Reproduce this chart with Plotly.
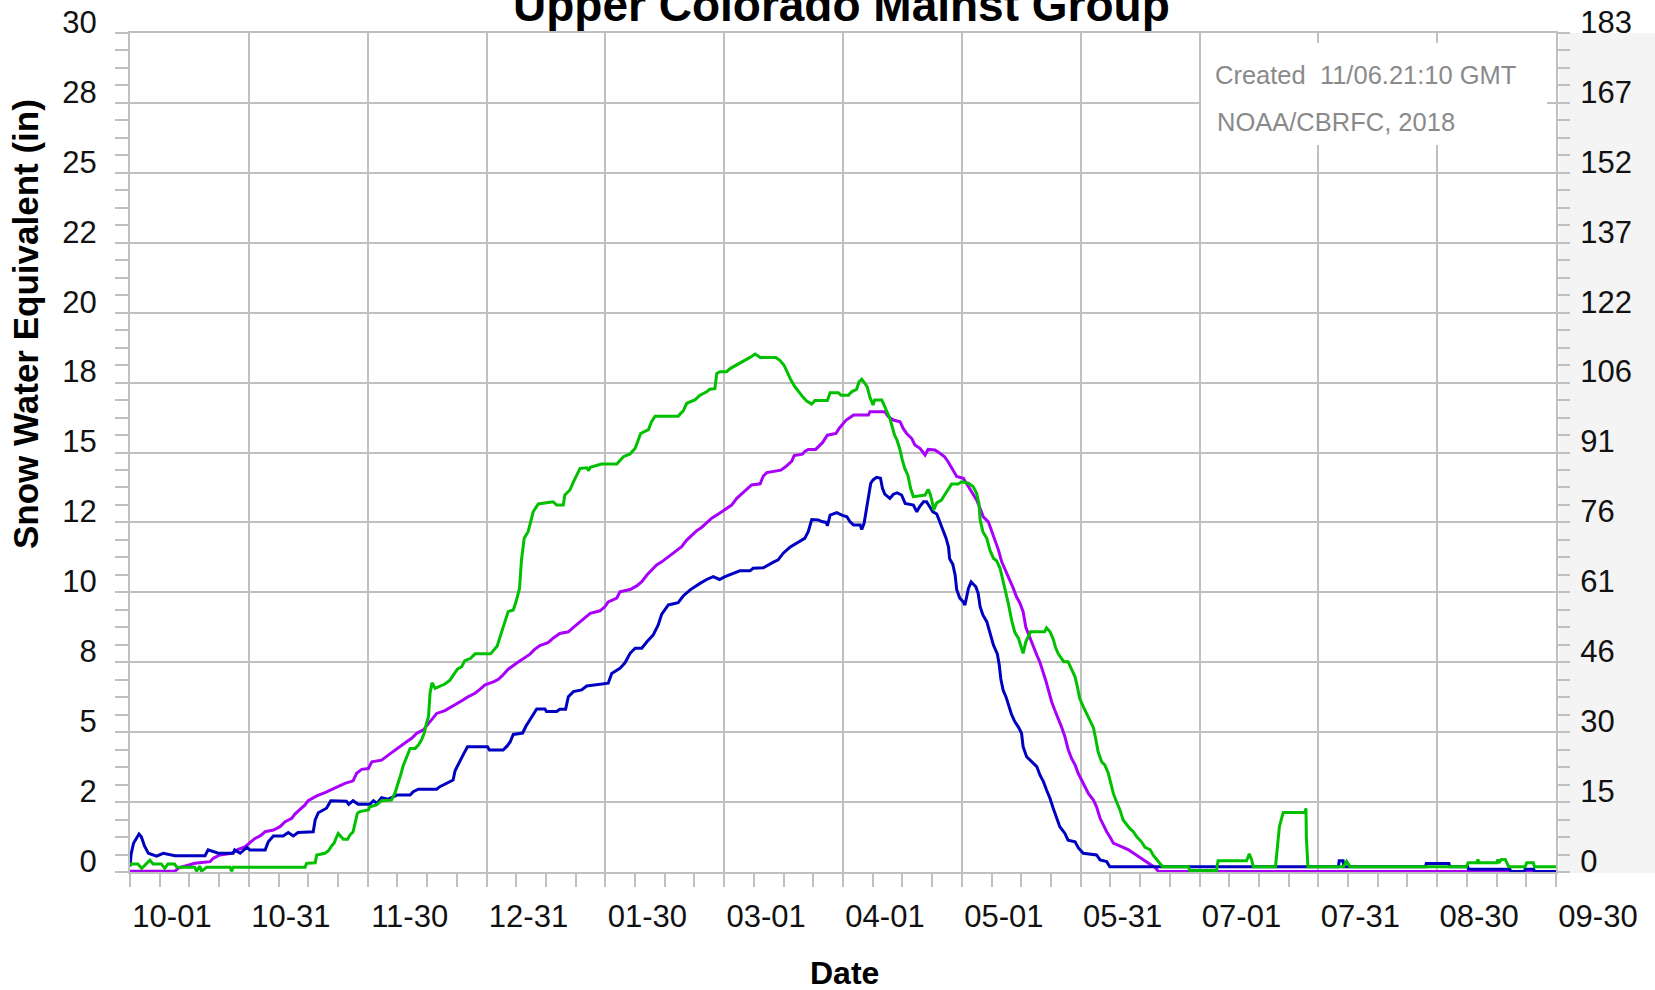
import plotly.graph_objects as go

# ---- data: day of water year (0 = Oct 1) and snow water equivalent (in) ----
blue_day = [0, 0.3, 0.9, 2.3, 2.9, 3.7, 4.7, 6.8, 8.5, 11.5, 19.2, 20.0, 22.6, 26.4, 26.8, 28.2, 29.9, 30.7,
            34.6, 35.4, 36.7, 39.2, 40.5, 41.8, 43.0, 46.9, 47.4, 48.2, 50.3, 51.4, 55.4, 56.0, 57.1, 58.4,
            61.4, 62.3, 63.2, 64.4, 66.0, 68.3, 71.7, 72.5, 73.8, 78.5, 79.3, 81.5, 82.7, 83.2, 84.5, 85.5,
            86.4, 91.5, 92.0, 95.5, 96.5, 97.3, 98.1, 100.5, 101.3, 102.4, 103.7, 104.1, 106.2, 106.6, 109.2,
            110.0, 111.5, 112.2, 113.5, 115.6, 116.9, 119.4, 122.4, 123.3, 125.4, 126.7, 128.0, 129.3, 131.0,
            132.3, 133.9, 135.2, 136.1, 137.8, 140.3, 141.6, 143.3, 145.9, 147.6, 149.3, 150.9, 152.3, 154.4,
            156.1, 158.7, 159.5, 162.1, 163.0, 164.7, 165.9, 167.2, 168.9, 171.5, 172.7, 173.6, 174.5, 176.2,
            177.1, 178.2, 178.5, 179.2, 180.9, 182.2, 183.5, 184.3, 185.2, 186.9, 187.3, 187.9, 188.6, 189.0,
            189.6, 190.2, 191.1, 192.1, 192.6, 193.2, 194.5, 195.4, 196.3, 197.5, 198.4, 200.5, 201.4, 202.1,
            203.1, 203.9, 204.8, 205.5, 206.5, 207.3, 208.0, 208.9, 209.5, 209.8, 210.6, 211.2, 211.6, 212.4,
            213.3, 213.7, 214.6, 215.3, 216.5, 217.1, 217.6, 218.3, 219.3, 220.1, 221.0, 222.0, 222.5, 222.9,
            223.5, 224.2, 224.8, 225.6, 226.5, 227.4, 228.2, 228.6, 229.5, 230.8, 232.1, 232.9, 233.8, 234.6,
            235.5, 236.3, 237.2, 238.0, 239.3, 240.1, 241.9, 242.8, 244.0, 247.4, 248.3, 250.0, 250.8, 309.3,
            309.5, 310.5, 310.7, 331.6, 331.8, 337.6, 337.8, 342.4, 342.6, 353.2, 353.4, 356.9, 357.1, 359.3,
            359.5, 365]
blue_swe = [0.2, 0.65, 1.03, 1.36, 1.26, 0.93, 0.67, 0.57, 0.67, 0.58, 0.58, 0.79, 0.67, 0.67, 0.79, 0.67, 0.88, 0.79,
            0.79, 1.08, 1.29, 1.29, 1.41, 1.29, 1.41, 1.44, 1.86, 2.12, 2.28, 2.55, 2.53, 2.42, 2.55, 2.42,
            2.42, 2.55, 2.45, 2.66, 2.6, 2.75, 2.75, 2.87, 2.96, 2.96, 3.05, 3.19, 3.29, 3.62, 4.0, 4.25,
            4.48, 4.48, 4.36, 4.36, 4.5, 4.65, 4.92, 4.97, 5.2, 5.43, 5.7, 5.83, 5.83, 5.74, 5.74,
            5.82, 5.82, 6.27, 6.45, 6.51, 6.65, 6.7, 6.75, 7.1, 7.28, 7.48, 7.82, 8.0, 8.0,
            8.23, 8.47, 8.83, 9.22, 9.55, 9.63, 9.87, 10.08, 10.32, 10.46, 10.56, 10.46, 10.56, 10.68,
            10.77, 10.77, 10.86, 10.88, 10.96, 11.08, 11.16, 11.4, 11.61, 11.81, 11.93, 12.17, 12.6, 12.59,
            12.53, 12.5, 12.38, 12.76, 12.85, 12.76, 12.7, 12.52, 12.41, 12.41, 12.25, 12.47, 13.06, 13.42,
            13.9, 14.02, 14.11, 14.08, 13.72, 13.51, 13.36, 13.51, 13.56, 13.48, 13.18, 13.12, 12.88, 13.06,
            13.24, 13.24, 13.06, 12.88, 12.8, 12.52, 12.29, 11.93, 11.63, 11.2, 11.0, 10.62, 10.1, 9.79,
            9.66, 9.54, 10.14, 10.37, 10.2, 9.96, 9.49, 9.19, 8.95, 8.53, 8.12, 7.8, 7.4, 6.9,
            6.5, 6.27, 6.0, 5.65, 5.37, 5.18, 4.96, 4.48, 4.12, 3.94, 3.77, 3.47, 3.23, 2.93,
            2.63, 2.28, 1.92, 1.62, 1.38, 1.14, 1.08, 0.85, 0.67, 0.61, 0.43, 0.37, 0.19, 0.19,
            0.4, 0.4, 0.19, 0.19, 0.3, 0.3, 0.19, 0.19, 0.1, 0.1, 0.02, 0.02, 0.1, 0.1,
            0.02, 0.02]

purple_day = [0, 11.5, 12.5, 16.6, 20.5, 21.3, 23.0, 26.0, 27.7, 29.4, 30.7, 32.0, 33.3, 34.6, 36.7, 38.4, 39.7,
              41.4, 42.2, 43.5, 44.8, 45.6, 47.8, 49.9, 51.2, 53.3, 55.0, 57.1, 58.0, 59.3, 61.0, 61.9, 64.4,
              66.1, 67.8, 69.5, 70.8, 72.1, 73.4, 75.1, 76.4, 77.5, 78.5, 80.6, 82.7, 84.5, 86.6, 88.3, 89.4,
              90.9, 93.0, 94.3, 95.3, 96.8, 99.0, 100.9, 102.4, 103.5, 104.9, 107.0, 108.3, 110.0, 112.2, 113.5,
              115.2, 116.5, 117.8, 120.3, 121.6, 122.4, 124.6, 125.4, 128.0, 129.7, 131.0, 132.3, 133.5, 134.8,
              136.1, 137.8, 139.5, 141.2, 142.5, 143.8, 145.0, 146.3, 147.6, 148.9, 150.6, 152.7, 154.0, 155.3,
              156.5, 157.8, 159.1, 161.3, 162.1, 163.0, 166.6, 167.8, 169.4, 170.0, 172.1, 172.8, 173.6, 175.5,
              176.4, 177.3, 178.5, 180.7, 181.5, 182.4, 183.3, 184.3, 185.2, 189.0, 189.4, 193.2, 194.1, 195.4,
              197.1, 197.9, 198.8, 200.1, 200.9, 202.2, 203.5, 204.3, 206.0, 207.3, 208.5, 209.4, 210.3, 211.6,
              213.3, 214.6, 215.8, 216.7, 217.6, 218.4, 219.7, 220.6, 221.4, 222.3, 223.1, 224.4, 225.2, 226.1,
              226.9, 227.8, 228.6, 229.3, 230.4, 231.2, 232.1, 232.9, 233.8, 234.4, 235.0, 235.9, 236.7, 237.6,
              238.4, 239.3, 240.1, 241.0, 241.9, 242.7, 243.6, 244.4, 245.3, 246.6, 247.4, 248.3, 249.1, 250.0,
              250.8, 251.7, 253.9, 255.6, 256.9, 258.1, 259.4, 260.7, 262.5, 263.2, 365]
purple_swe = [0.03, 0.03, 0.15, 0.31, 0.37, 0.49, 0.61, 0.67, 0.81, 0.9, 1.05, 1.2, 1.29, 1.44, 1.5, 1.62, 1.8,
              1.92, 2.07, 2.22, 2.4, 2.55, 2.72, 2.84, 2.93, 3.05, 3.17, 3.26, 3.53, 3.67, 3.7, 3.94, 4.0,
              4.18, 4.36, 4.54, 4.66, 4.78, 4.96, 5.08, 5.32, 5.5, 5.67, 5.77, 5.93, 6.09, 6.27, 6.39, 6.51,
              6.69, 6.8, 6.89, 7.02, 7.25, 7.47, 7.65, 7.79, 7.95, 8.1, 8.2, 8.36, 8.53, 8.59, 8.75,
              8.95, 9.13, 9.25, 9.34, 9.49, 9.66, 9.79, 10.02, 10.1, 10.23, 10.38, 10.62, 10.8, 10.98,
              11.09, 11.27, 11.45, 11.63, 11.87, 12.05, 12.2, 12.32, 12.47, 12.65, 12.8, 13.0, 13.12, 13.36,
              13.51, 13.66, 13.84, 13.88, 14.16, 14.28, 14.37, 14.49, 14.69, 14.89, 14.94, 15.05, 15.11, 15.11,
              15.22, 15.36, 15.62, 15.68, 15.86, 16.0, 16.16, 16.25, 16.34, 16.34, 16.46, 16.46, 16.28, 16.16,
              16.1, 15.86, 15.68, 15.5, 15.27, 15.15, 14.91, 15.11, 15.09, 14.97, 14.85, 14.67, 14.43, 14.14,
              14.08, 13.78, 13.54, 13.3, 13.0, 12.7, 12.52, 12.17, 11.87, 11.51, 11.1, 10.7, 10.44, 10.14,
              9.84, 9.61, 9.31, 8.75, 8.36, 8.06, 7.76, 7.5, 7.15, 6.85, 6.55, 6.09, 5.79, 5.5,
              5.2, 4.84, 4.4, 4.06, 3.83, 3.53, 3.29, 3.05, 2.81, 2.57, 2.33, 1.92, 1.68, 1.44,
              1.26, 1.03, 0.9, 0.79, 0.67, 0.55, 0.43, 0.31, 0.15, 0.02, 0.02]

green_day = [0, 2.0, 3.0, 4.3, 5.1, 5.9, 8.0, 8.9, 9.7, 11.4, 12.0, 16.6, 17.0, 17.9, 18.3, 19.6, 25.6, 26.0, 26.4,
             44.8, 45.2, 47.4, 47.8, 49.9, 50.8, 51.6, 52.3, 52.9, 53.3, 54.6, 55.7, 56.3, 57.1, 57.6, 58.2,
             58.8, 61.0, 61.4, 63.1, 64.4, 66.9, 67.8, 68.7, 69.4, 69.9, 70.8, 71.7, 73.0, 73.8, 74.6, 75.3,
             75.9, 76.4, 76.8, 77.3, 78.1, 79.3, 80.6, 81.9, 82.9, 83.8, 84.9, 85.7, 87.2, 88.3, 92.3, 93.2,
             94.0, 94.7, 95.8, 96.8, 98.1, 98.8, 99.7, 100.2, 100.9, 101.9, 102.5, 103.2, 104.5, 108.3, 109.2,
             110.9, 111.3, 112.6, 113.5, 114.3, 115.2, 116.9, 117.4, 117.8, 120.7, 124.6, 125.4, 126.3, 128.0,
             129.3, 130.1, 130.7, 132.7, 133.5, 134.4, 140.3, 141.6, 142.5, 144.6, 145.9, 147.6, 148.4, 149.7,
             150.2, 151.0, 152.7, 153.6, 154.8, 156.1, 157.4, 158.7, 160.0, 161.3, 165.3, 166.4, 167.4, 168.3,
             169.2, 170.2, 171.1, 172.2, 173.2, 174.5, 175.3, 178.5, 179.2, 181.3, 182.0, 183.9, 184.7, 186.0,
             186.6, 187.3, 188.1, 188.7, 189.4, 190.2, 190.6, 192.4, 193.0, 193.8, 194.5, 195.1, 195.7, 196.3,
             197.0, 197.7, 198.3, 199.1, 199.8, 200.5, 203.5, 204.3, 204.9, 205.5, 205.7, 206.5, 207.7, 208.5,
             209.5, 210.3, 212.0, 212.8, 214.6, 215.8, 216.7, 217.3, 217.6, 218.3, 219.3, 220.1, 221.0, 221.8,
             222.7, 223.3, 224.0, 224.8, 225.7, 226.5, 227.4, 228.0, 228.6, 229.3, 229.9, 230.5, 234.1, 234.6,
             235.5, 236.3, 236.9, 237.6, 238.4, 239.0, 240.1, 241.0, 241.9, 242.5, 243.1, 244.0, 244.8, 245.7,
             246.6, 247.2, 247.8, 248.7, 249.5, 250.4, 251.0, 251.7, 252.5, 253.4, 254.2, 255.1, 255.9, 256.8,
             257.7, 258.9, 259.8, 261.1, 261.9, 262.8, 263.6, 264.3, 270.9, 271.3, 278.1, 278.5, 285.8, 286.5,
             287.1, 287.5, 293.2, 293.5, 294.2, 295.0, 295.2, 300.8, 301.0, 301.1, 301.5, 310.6, 311.4, 312.3,
             342.1, 342.5, 344.8, 345.0, 345.3, 349.9, 350.1, 350.4, 351.0, 352.0, 352.9, 357.1, 357.5, 359.2,
             359.5, 365]
green_swe = [0.29, 0.29, 0.13, 0.3, 0.42, 0.29, 0.29, 0.13, 0.29, 0.29, 0.17, 0.17, 0.03, 0.21, 0.03, 0.17, 0.17, 0.03, 0.17,
             0.17, 0.31, 0.33, 0.61, 0.67, 0.76, 0.93, 1.05, 1.26, 1.38, 1.17, 1.17, 1.32, 1.44, 1.74, 2.1,
             2.16, 2.22, 2.33, 2.4, 2.55, 2.57, 2.81, 3.19, 3.53, 3.79, 4.12, 4.42, 4.42, 4.54, 4.72, 4.96,
             5.32, 5.55, 6.39, 6.77, 6.57, 6.65, 6.72, 6.86, 7.08, 7.25, 7.34, 7.56, 7.64, 7.8, 7.8, 7.95,
             8.08, 8.4, 8.9, 9.31, 9.37, 9.66, 10.14, 11.15, 11.93, 12.17, 12.49, 12.88, 13.16, 13.24, 13.12,
             13.12, 13.48, 13.66, 13.95, 14.19, 14.43, 14.45, 14.35, 14.47, 14.59, 14.59, 14.71, 14.85, 14.95,
             15.15, 15.45, 15.68, 15.82, 16.1, 16.3, 16.3, 16.49, 16.76, 16.88, 17.05, 17.17, 17.26, 17.28,
             17.83, 17.89, 17.89, 18.0, 18.09, 18.19, 18.3, 18.4, 18.52, 18.4, 18.4, 18.29, 18.12, 17.85,
             17.58, 17.35, 17.17, 16.99, 16.84, 16.73, 16.86, 16.86, 17.14, 17.14, 17.05, 17.05, 17.17, 17.26,
             17.53, 17.62, 17.47, 17.35, 16.97, 16.7, 16.88, 16.88, 16.7, 16.46, 16.22, 15.92, 15.62, 15.45,
             15.15, 14.73, 14.43, 14.19, 13.72, 13.42, 13.48, 13.68, 13.48, 13.12, 12.94, 13.2, 13.3, 13.48,
             13.72, 13.87, 13.87, 13.95, 13.9, 13.78, 13.54, 13.18, 12.59, 12.17, 11.93, 11.51, 11.22, 11.13,
             10.86, 10.5, 10.18, 9.61, 8.98, 8.56, 8.36, 8.05, 7.82, 8.23, 8.41, 8.59, 8.59, 8.73,
             8.59, 8.33, 8.03, 7.8, 7.64, 7.52, 7.52, 7.25, 6.98, 6.62, 6.2, 5.91, 5.67, 5.4,
             5.16, 4.75, 4.3, 3.94, 3.83, 3.53, 3.17, 2.81, 2.51, 2.22, 1.86, 1.68, 1.56, 1.44,
             1.26, 1.08, 0.88, 0.8, 0.6, 0.45, 0.3, 0.19, 0.19, 0.05, 0.05, 0.4, 0.4, 0.65,
             0.43, 0.19, 0.19, 0.64, 1.62, 2.04, 2.13, 2.13, 2.28, 1.25, 0.19, 0.19, 0.38, 0.19,
             0.19, 0.33, 0.33, 0.45, 0.33, 0.33, 0.45, 0.33, 0.45, 0.45, 0.19, 0.19, 0.33, 0.33,
             0.19, 0.19]

# ---- axis labelling ----
x_tick_labels = ["10-01", "10-31", "11-30", "12-31", "01-30", "03-01", "04-01",
                 "05-01", "05-31", "07-01", "07-31", "08-30", "09-30"]
y_tick_values = [0, 2.5, 5, 7.5, 10, 12.5, 15, 17.5, 20, 22.5, 25, 27.5, 30]
y_left_labels = ["0", "2", "5", "8", "10", "12", "15", "18", "20", "22", "25", "28", "30"]
y_right_labels = ["0", "15", "30", "46", "61", "76", "91", "106", "122", "137", "152", "167", "183"]

DAYS = 365
x_tick_values = [DAYS * i / 12 for i in range(13)]

# ---- page geometry (pixels) ----
W, H = 1655, 990
L, R, T, B = 130, 1556, 33, 872


def px(xp):
    return (xp - L) / (R - L)


def py(yp):
    return (B - yp) / (B - T)


FONT = "Liberation Sans, Arial, Helvetica, sans-serif"
GRID = "#c0c0c0"
LINE_W = 3

fig = go.Figure()
fig.add_trace(go.Scatter(x=purple_day, y=purple_swe, mode="lines",
                         line=dict(color="#a800f8", width=LINE_W), showlegend=False))
fig.add_trace(go.Scatter(x=blue_day, y=blue_swe, mode="lines",
                         line=dict(color="#0000c0", width=LINE_W), showlegend=False))
fig.add_trace(go.Scatter(x=green_day, y=green_swe, mode="lines",
                         line=dict(color="#00c000", width=LINE_W), showlegend=False))
# empty trace so the right-hand scale gets drawn
fig.add_trace(go.Scatter(x=[], y=[], yaxis="y2", mode="lines", showlegend=False, hoverinfo="skip"))

minor_ticks = dict(ticks="outside", ticklen=13, tickwidth=2, tickcolor=GRID, showgrid=False)
tick_common = dict(ticks="outside", ticklen=13, tickwidth=2, tickcolor=GRID, automargin=False,
                   tickfont=dict(family=FONT, size=31, color="#111111"))

fig.update_layout(
    width=W, height=H, autosize=False,
    margin=dict(l=L, r=W - R, t=T, b=H - B, pad=0, autoexpand=False),
    paper_bgcolor="white", plot_bgcolor="white",
    xaxis=dict(range=[0, DAYS], tickmode="array", tickvals=x_tick_values, ticktext=x_tick_labels,
               showgrid=True, gridcolor=GRID, gridwidth=2, zeroline=False,
               showline=True, linecolor=GRID, linewidth=2, mirror=True,
               ticklabelshift=42, ticklabelstandoff=3,
               minor=dict(dtick=DAYS / 48, tick0=0, **minor_ticks),
               **tick_common),
    yaxis=dict(range=[0, 30], tickmode="array", tickvals=y_tick_values, ticktext=y_left_labels,
               showgrid=True, gridcolor=GRID, gridwidth=2, zeroline=False,
               showline=True, linecolor=GRID, linewidth=2, mirror=True,
               ticklabelshift=-11, ticklabelstandoff=12,
               minor=dict(dtick=0.625, tick0=0, **minor_ticks),
               **tick_common),
    yaxis2=dict(range=[0, 30], overlaying="y", side="right", tickmode="array",
                tickvals=y_tick_values, ticktext=y_right_labels,
                showgrid=False, zeroline=False, showline=False,
                ticklabelshift=-11, ticklabelstandoff=4,
                minor=dict(dtick=0.625, tick0=0, **minor_ticks),
                **tick_common),
)

# light panel behind the right-hand scale
fig.add_shape(type="rect", xref="paper", yref="paper",
              x0=px(R + 3), x1=px(W + 5), y0=py(B + 1), y1=py(T),
              fillcolor="#f4f4f4", line=dict(width=0), layer="below")

# white box holding the credit lines
fig.add_shape(type="rect", xref="paper", yref="paper",
              x0=px(1201), x1=px(1547), y0=py(145), y1=py(43),
              fillcolor="white", line=dict(width=0), layer="above")

fig.add_annotation(text="Created  11/06.21:10 GMT", xref="paper", yref="paper",
                   x=px(1213), y=py(75), xanchor="left", yanchor="middle", showarrow=False,
                   font=dict(family=FONT, size=25.5, color="#8a8a8a"))
fig.add_annotation(text="NOAA/CBRFC, 2018", xref="paper", yref="paper",
                   x=px(1215), y=py(122), xanchor="left", yanchor="middle", showarrow=False,
                   font=dict(family=FONT, size=25.5, color="#8a8a8a"))

# title, partly clipped by the page top
fig.add_annotation(text="<b>Upper Colorado Mainst Group</b>", xref="paper", yref="paper",
                   x=px(841), y=py(5), xanchor="center", yanchor="middle", showarrow=False,
                   font=dict(family=FONT, size=46, color="black"))

fig.add_annotation(text="<b>Snow Water Equivalent (in)</b>", xref="paper", yref="paper",
                   x=px(26), y=py(324), xanchor="center", yanchor="middle", showarrow=False,
                   textangle=-90, font=dict(family=FONT, size=35, color="black"))

fig.add_annotation(text="<b>Date</b>", xref="paper", yref="paper",
                   x=px(844), y=py(973), xanchor="center", yanchor="middle", showarrow=False,
                   font=dict(family=FONT, size=32, color="black"))

fig.write_html("out.html")
